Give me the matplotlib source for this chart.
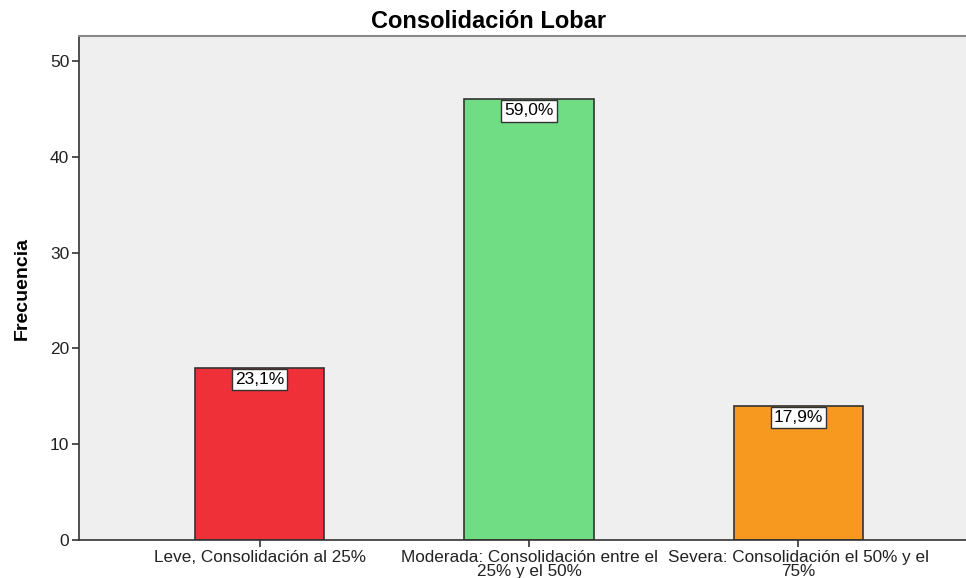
import numpy as np
import matplotlib.pyplot as plt

# Data
categories = [
    "Leve, Consolidación al 25%",
    "Moderada: Consolidación entre el\n25% y el 50%",
    "Severa: Consolidación el 50% y el\n75%",
]
counts = [18, 46, 14]
percent_labels = ["23,1%", "59,0%", "17,9%"]
colors = ["#EF3039", "#70DC83", "#F7991F"]

plt.rcParams["font.family"] = ["Liberation Sans", "DejaVu Sans"]

fig = plt.figure(figsize=(9.66, 5.78), dpi=100)
# axes runs past the right edge like in the original export
ax = fig.add_axes([0.0818, 0.0657, 0.9317, 0.872])
ax.set_facecolor("#EFEFEF")

x = np.arange(len(categories))
bars = ax.bar(x, counts, width=0.48, color=colors, edgecolor="#333333", linewidth=1.2)

for xi, c, lab in zip(x, counts, percent_labels):
    ax.annotate(lab, xy=(xi, c), xytext=(0, -3), textcoords="offset points",
                ha="center", va="top", fontsize=12.5,
                bbox=dict(boxstyle="square,pad=0.18", fc="white", ec="#333333", lw=1))

ax.set_xlim(-0.67, 2.67)
ax.set_ylim(0, 52.6)
ax.set_yticks([0, 10, 20, 30, 40, 50])
ax.set_xticks(x)
ax.set_xticklabels(categories, fontsize=12.3, linespacing=0.92)

ax.tick_params(axis="both", direction="out", length=5, width=1.2, color="#333333",
               labelcolor="#222222")
ax.tick_params(axis="y", labelsize=12.5, pad=2)
ax.tick_params(axis="x", pad=2)

for side in ["left", "bottom"]:
    ax.spines[side].set_color("#333333")
    ax.spines[side].set_linewidth(1.2)
for side in ["top", "right"]:
    ax.spines[side].set_color("#888888")
    ax.spines[side].set_linewidth(1.5)

ax.set_ylabel("Frecuencia", fontsize=14, fontweight="bold", labelpad=14)
fig.text(489 / 966, 1 - 22 / 578, "Consolidación Lobar", fontsize=17,
         fontweight="bold", ha="center", va="center")

fig.savefig("out.png", dpi=100)
